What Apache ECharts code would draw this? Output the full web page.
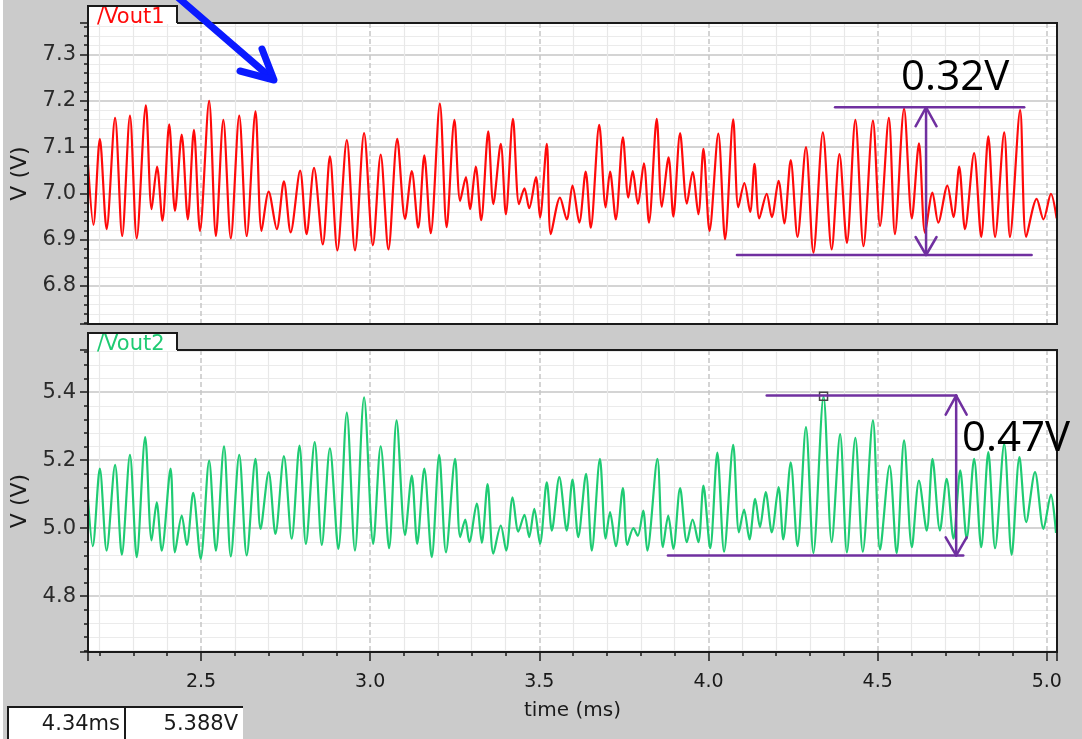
<!DOCTYPE html>
<html>
<head>
<meta charset="utf-8">
<title>Vout1 / Vout2 transient</title>
<script src="https://cdn.jsdelivr.net/npm/echarts@6/dist/echarts.min.js"></script>
<style>
  html, body { margin: 0; padding: 0; background: #cbcbcb; }
  #chart { width: 1082px; height: 739px; }
</style>
</head>
<body>
<div id="chart"></div>
<script>
// ---- data: [time (ms), voltage (V)] turning points of each trace ----
const vout1 = [
  [2.166,7.063],[2.182,6.932],[2.201,7.118],[2.221,6.923],[2.246,7.163],[2.267,6.908],[2.290,7.168],[2.310,6.903],
  [2.337,7.190],[2.354,6.966],[2.370,7.058],[2.386,6.941],[2.406,7.149],[2.423,6.962],[2.443,7.127],[2.461,6.944],
  [2.479,7.137],[2.497,6.919],[2.524,7.200],[2.544,6.908],[2.566,7.159],[2.588,6.903],[2.613,7.168],[2.635,6.908],
  [2.661,7.177],[2.679,6.919],[2.700,7.004],[2.724,6.923],[2.745,7.026],[2.765,6.916],[2.793,7.049],[2.812,6.912],
  [2.834,7.055],[2.860,6.890],[2.881,7.080],[2.903,6.877],[2.931,7.115],[2.955,6.877],[2.982,7.130],[3.008,6.888],
  [3.031,7.084],[3.054,6.879],[3.080,7.118],[3.103,6.945],[3.123,7.048],[3.142,6.926],[3.160,7.082],[3.179,6.914],
  [3.206,7.194],[3.226,6.927],[3.249,7.159],[3.266,6.984],[3.283,7.035],[3.295,6.966],[3.312,7.058],[3.328,6.942],
  [3.349,7.134],[3.364,6.977],[3.386,7.107],[3.401,6.955],[3.422,7.161],[3.440,6.977],[3.456,7.011],[3.470,6.968],
  [3.490,7.035],[3.502,6.948],[3.522,7.107],[3.534,6.912],[3.561,6.991],[3.581,6.944],[3.598,7.017],[3.618,6.937],
  [3.637,7.047],[3.652,6.926],[3.677,7.148],[3.696,6.970],[3.709,7.047],[3.726,6.944],[3.747,7.121],[3.763,6.991],
  [3.776,7.048],[3.791,6.978],[3.809,7.065],[3.824,6.937],[3.847,7.161],[3.862,6.971],[3.882,7.078],[3.896,6.950],
  [3.916,7.130],[3.936,6.978],[3.953,7.046],[3.970,6.955],[3.985,7.096],[4.003,6.919],[4.029,7.129],[4.049,6.901],
  [4.073,7.160],[4.088,6.970],[4.106,7.022],[4.123,6.960],[4.136,7.064],[4.150,6.946],[4.172,6.999],[4.187,6.949],
  [4.207,7.027],[4.224,6.935],[4.243,7.072],[4.263,6.906],[4.288,7.100],[4.310,6.872],[4.338,7.132],[4.364,6.879],
  [4.387,7.085],[4.409,6.893],[4.434,7.159],[4.458,6.886],[4.486,7.157],[4.507,6.930],[4.533,7.163],[4.551,6.912],
  [4.578,7.183],[4.601,6.946],[4.622,7.108],[4.640,6.915],[4.662,7.002],[4.679,6.937],[4.706,7.017],[4.724,6.949],
  [4.741,7.058],[4.758,6.923],[4.785,7.087],[4.806,6.906],[4.827,7.123],[4.847,6.906],[4.874,7.132],[4.891,6.906],
  [4.921,7.180],[4.939,6.906],[4.970,6.988],[4.990,6.944],[5.012,6.999],[5.029,6.946]
];

const vout2 = [
  [2.166,5.086],[2.180,4.947],[2.201,5.175],[2.221,4.934],[2.246,5.186],[2.266,4.922],[2.290,5.216],[2.310,4.915],
  [2.335,5.268],[2.354,4.964],[2.369,5.076],[2.384,4.934],[2.410,5.175],[2.423,4.929],[2.443,5.037],[2.458,4.951],
  [2.477,5.104],[2.499,4.910],[2.524,5.199],[2.544,4.934],[2.568,5.241],[2.588,4.917],[2.613,5.216],[2.635,4.920],
  [2.661,5.204],[2.676,4.998],[2.700,5.165],[2.720,4.983],[2.745,5.212],[2.768,4.969],[2.791,5.243],[2.810,4.954],
  [2.836,5.253],[2.857,4.951],[2.881,5.235],[2.906,4.939],[2.931,5.340],[2.955,4.934],[2.982,5.385],[3.009,4.954],
  [3.031,5.241],[3.056,4.941],[3.078,5.317],[3.103,4.980],[3.123,5.155],[3.139,4.954],[3.160,5.175],[3.182,4.915],
  [3.204,5.216],[3.224,4.929],[3.251,5.204],[3.266,4.974],[3.281,5.025],[3.293,4.959],[3.315,5.072],[3.330,4.957],
  [3.347,5.130],[3.364,4.925],[3.386,5.008],[3.402,4.934],[3.421,5.091],[3.438,4.990],[3.456,5.039],[3.470,4.974],
  [3.485,5.057],[3.502,4.954],[3.522,5.135],[3.537,4.993],[3.559,5.150],[3.581,4.993],[3.598,5.143],[3.615,4.974],
  [3.638,5.160],[3.655,4.934],[3.679,5.204],[3.696,4.969],[3.709,5.047],[3.726,4.947],[3.747,5.118],[3.760,4.951],
  [3.778,5.000],[3.791,4.978],[3.807,5.052],[3.819,4.934],[3.849,5.204],[3.865,4.944],[3.881,5.037],[3.896,4.939],
  [3.916,5.118],[3.936,4.959],[3.953,5.025],[3.970,4.959],[3.985,5.125],[4.005,4.941],[4.026,5.222],[4.046,4.931],
  [4.073,5.245],[4.090,4.988],[4.105,5.055],[4.121,4.967],[4.138,5.086],[4.152,5.003],[4.169,5.106],[4.187,4.988],
  [4.207,5.121],[4.221,4.967],[4.243,5.194],[4.263,4.947],[4.288,5.297],[4.310,4.927],[4.340,5.388],[4.364,4.959],
  [4.389,5.277],[4.409,4.929],[4.434,5.266],[4.456,4.931],[4.486,5.317],[4.507,4.937],[4.535,5.184],[4.556,4.927],
  [4.578,5.258],[4.601,4.944],[4.622,5.140],[4.645,4.993],[4.662,5.204],[4.684,4.993],[4.704,5.145],[4.724,4.969],
  [4.744,5.170],[4.763,4.969],[4.785,5.204],[4.806,4.944],[4.827,5.224],[4.847,4.941],[4.874,5.248],[4.896,4.922],
  [4.919,5.209],[4.939,5.018],[4.965,5.165],[4.990,4.998],[5.012,5.099],[5.027,4.986]
];

// visible ranges of the axes
const timeRange = [2.166, 5.03];
const vout1Range = [6.718, 7.368];
const vout2Range = [4.636, 5.524];

// cursor readout on Vout2
const cursorTime = 4.34;
const cursorVolt = 5.388;

// peak-to-peak swing annotations: level lines, their time spans, arrow time
const swing1Label = '0.32V';
const swing1Levels = [7.186, 6.867];
const swing1HighSpan = [4.374, 4.933];
const swing1LowSpan = [4.084, 4.955];
const swing1ArrowTime = 4.643;

const swing2Label = '0.47V';
const swing2Levels = [5.390, 4.920];
const swing2HighSpan = [4.172, 4.732];
const swing2LowSpan = [3.880, 4.753];
const swing2ArrowTime = 4.732;

// ---- layout ----
const PLOT_LEFT = 88, PLOT_RIGHT = 1057, TAB_RIGHT = 177;
const panels = [
  { top: 23, bottom: 324, tabTop: 6, name: '/Vout1', color: '#ff0a0a' },
  { top: 350, bottom: 652, tabTop: 333, name: '/Vout2', color: '#1fcb73' }
];
const FONT = '"DejaVu Sans", sans-serif';
const INK = '#1a1a1a';

const chart = echarts.init(document.getElementById('chart'), null, { renderer: 'canvas' });

function timeAxis(gridIndex, withLabels) {
  return {
    type: 'value', gridIndex,
    min: timeRange[0], max: timeRange[1], splitNumber: 5,
    axisLine: { show: withLabels, lineStyle: { color: INK, width: 2 } },
    axisTick: { show: withLabels, length: 9, lineStyle: { color: INK, width: 1.5 } },
    minorTick: { show: withLabels, splitNumber: 5, length: 4, lineStyle: { color: INK, width: 1.5 } },
    axisLabel: {
      show: withLabels, showMinLabel: false, showMaxLabel: false,
      formatter: v => v.toFixed(1), margin: 21,
      fontSize: 19, fontFamily: FONT, color: INK
    },
    splitLine: { show: true, showMinLine: false, showMaxLine: false,
      lineStyle: { color: '#c6c6c6', width: 1.5, type: [5, 3] } },
    minorSplitLine: { show: true, lineStyle: { color: '#e8e8e8', width: 1.2 } },
    name: withLabels ? 'time (ms)' : '',
    nameLocation: 'middle', nameGap: 49,
    nameTextStyle: { fontSize: 20, fontFamily: FONT, color: INK }
  };
}

function voltAxis(gridIndex, range, splitNumber) {
  return {
    type: 'value', gridIndex,
    min: range[0], max: range[1], splitNumber,
    name: 'V (V)', nameLocation: 'middle', nameGap: 44,
    nameTextStyle: { fontSize: 22, fontFamily: FONT, color: INK },
    axisLine: { show: true, lineStyle: { color: INK, width: 2 } },
    axisTick: { show: true, length: 8, lineStyle: { color: INK, width: 1.5 } },
    minorTick: { show: true, splitNumber: 5, length: 4, lineStyle: { color: INK, width: 1.5 } },
    axisLabel: {
      showMinLabel: false, showMaxLabel: false,
      formatter: v => v.toFixed(1), margin: 12,
      fontSize: 21, fontFamily: FONT, color: '#2a2a2a'
    },
    splitLine: { show: true, showMinLine: false, showMaxLine: false,
      lineStyle: { color: '#c6c6c6', width: 1.5 } },
    minorSplitLine: { show: true, lineStyle: { color: '#ebebeb', width: 1.2 } }
  };
}

function trace(index, data, color, extra) {
  return Object.assign({
    type: 'line', xAxisIndex: index, yAxisIndex: index,
    data, symbol: 'none', showSymbol: false, sampling: null,
    smooth: 0.3,
    lineStyle: { color, width: 2.2 }, itemStyle: { color },
    z: 3, silent: true, animation: false
  }, extra || {});
}

chart.setOption({
  animation: false,
  backgroundColor: '#cbcbcb',
  grid: panels.map(p => ({
    left: PLOT_LEFT, width: PLOT_RIGHT - PLOT_LEFT,
    top: p.top, height: p.bottom - p.top,
    show: true, backgroundColor: '#ffffff', borderWidth: 0
  })),
  xAxis: [timeAxis(0, false), timeAxis(1, true)],
  yAxis: [voltAxis(0, vout1Range, 6), voltAxis(1, vout2Range, 4)],
  series: [
    trace(0, vout1, panels[0].color),
    trace(1, vout2, panels[1].color, {
      markPoint: {
        silent: true, animation: false,
        symbol: 'rect', symbolSize: 8,
        itemStyle: { color: 'rgba(0,0,0,0)', borderColor: '#444', borderWidth: 1.5 },
        label: { show: false },
        data: [{ coord: [cursorTime, cursorVolt] }]
      }
    })
  ]
});

// ---- overlay: panel frames with tabs, swing annotations, readout ----
function toPx(gridIndex, t, v) {
  return chart.convertToPixel({ gridIndex }, [t, v]);
}

const PURPLE = '#7030a0';
const graphics = [];

// thin white strip at the left window edge
graphics.push({ type: 'rect', z: 20, shape: { x: 0, y: 0, width: 3, height: 739 }, style: { fill: '#ffffff' } });

panels.forEach(p => {
  graphics.push({
    type: 'rect', z: 20,
    shape: { x: PLOT_LEFT, y: p.tabTop, width: TAB_RIGHT - PLOT_LEFT, height: p.top - p.tabTop + 1 },
    style: { fill: '#ffffff' }
  });
  graphics.push({
    type: 'polyline', z: 21,
    shape: { points: [[TAB_RIGHT, p.top], [TAB_RIGHT, p.tabTop], [PLOT_LEFT, p.tabTop], [PLOT_LEFT, p.bottom],
                      [PLOT_RIGHT, p.bottom], [PLOT_RIGHT, p.top], [TAB_RIGHT, p.top]] },
    style: { stroke: INK, lineWidth: 2, fill: null, lineJoin: 'miter' }
  });
  graphics.push({
    type: 'text', z: 22, x: PLOT_LEFT + 9, y: p.tabTop + 12,
    style: { text: p.name, fill: p.color, font: '21px ' + FONT,
             align: 'left', verticalAlign: 'middle', textAlign: 'left', textVerticalAlign: 'middle' }
  });
});

function swing(gridIndex, levels, highSpan, lowSpan, arrowTime, label, labelPos) {
  const hiA = toPx(gridIndex, highSpan[0], levels[0]);
  const hiB = toPx(gridIndex, highSpan[1], levels[0]);
  const loA = toPx(gridIndex, lowSpan[0], levels[1]);
  const loB = toPx(gridIndex, lowSpan[1], levels[1]);
  const top = toPx(gridIndex, arrowTime, levels[0]);
  const bot = toPx(gridIndex, arrowTime, levels[1]);
  const line = pts => ({ type: 'polyline', z: 25, shape: { points: pts },
    style: { stroke: PURPLE, lineWidth: 2.5, fill: null, lineJoin: 'round', lineCap: 'round' } });
  graphics.push(line([hiA, hiB]));
  graphics.push(line([loA, loB]));
  graphics.push(line([top, bot]));
  graphics.push(line([[top[0] - 10.5, top[1] + 19], top, [top[0] + 10.5, top[1] + 19]]));
  graphics.push(line([[bot[0] - 10.5, bot[1] - 18], bot, [bot[0] + 10.5, bot[1] - 18]]));
  const lp = toPx(gridIndex, labelPos[0], labelPos[1]);
  graphics.push({
    type: 'text', z: 26, x: lp[0], y: lp[1],
    style: { text: label, fill: '#000000', font: '42px "Open Sans", "Noto Sans", sans-serif',
             align: 'center', verticalAlign: 'middle', textAlign: 'center', textVerticalAlign: 'middle' }
  });
}
swing(0, swing1Levels, swing1HighSpan, swing1LowSpan, swing1ArrowTime, swing1Label, [4.729, 7.250]);
swing(1, swing2Levels, swing2HighSpan, swing2LowSpan, swing2ArrowTime, swing2Label, [4.909, 5.263]);

// blue pointer arrow at the top
graphics.push({ type: 'polyline', z: 30, shape: { points: [[174, -6], [270, 77]] },
  style: { stroke: '#0a1aff', lineWidth: 7, fill: null, lineCap: 'round' } });
graphics.push({ type: 'polyline', z: 30, shape: { points: [[240, 71], [274, 80], [262, 49]] },
  style: { stroke: '#0a1aff', lineWidth: 7, fill: null, lineCap: 'round', lineJoin: 'round' } });

// cursor readout boxes
const readouts = [
  { x: 8, w: 117, text: cursorTime.toFixed(2) + 'ms' },
  { x: 125, w: 118, text: cursorVolt.toFixed(3) + 'V' }
];
readouts.forEach(r => {
  graphics.push({ type: 'rect', z: 20, shape: { x: r.x, y: 707, width: r.w, height: 40 }, style: { fill: '#ffffff' } });
  graphics.push({ type: 'polyline', z: 21, shape: { points: [[r.x, 740], [r.x, 707], [r.x + r.w, 707]] },
    style: { stroke: INK, lineWidth: 2, fill: null } });
  graphics.push({ type: 'text', z: 22, x: r.x + r.w - 5, y: 725,
    style: { text: r.text, fill: INK, font: '21px ' + FONT,
             align: 'right', verticalAlign: 'middle', textAlign: 'right', textVerticalAlign: 'middle' } });
});

chart.setOption({ graphic: graphics });
</script>
</body>
</html>
